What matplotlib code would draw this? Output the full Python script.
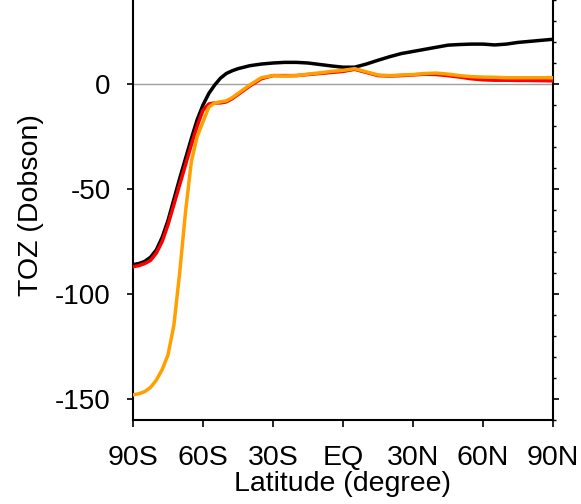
#!/usr/bin/env python3
"""Zonal mean total ozone difference vs latitude."""

import matplotlib as mpl
mpl.use("Agg")
import matplotlib.pyplot as plt
from matplotlib.ticker import MultipleLocator

plt.rcParams["font.family"] = ["Liberation Sans", "DejaVu Sans"]
plt.rcParams["axes.unicode_minus"] = False

lat = [-90, -87.5, -85, -82.5, -80, -77.5, -75, -72.5, -70, -67.5, -65, -62.5,
       -60, -57.5, -55, -52.5, -50, -47.5, -45, -40, -35, -30, -25, -20, -15,
       -10, -5, 0, 5, 10, 15, 20, 25, 30, 35, 40, 45, 50, 55, 60, 65, 70, 75,
       80, 85, 90]

toz_black = [-86, -85.5, -84.5, -82.5, -79, -73, -65, -55, -45, -35.5, -26, -17,
             -10, -4.5, -0.5, 2.8, 5, 6.3, 7.3, 8.7, 9.5, 10, 10.3, 10.3, 10,
             9.3, 8.6, 8, 8, 9.5, 11.3, 13, 14.5, 15.5, 16.5, 17.5, 18.5, 18.8,
             19, 19, 18.6, 19, 19.8, 20.3, 20.8, 21.3]

toz_red = [-87, -86.5, -85.5, -84, -80.5, -75, -67, -57.5, -48, -38.5, -29,
           -20, -12.5, -9.5, -9, -9, -8.5, -7, -5, -1, 2.5, 4, 4, 4, 4.5, 5,
           5.5, 6, 7, 5.5, 4, 3.8, 4, 4.3, 4.7, 4.5, 4, 3.3, 2.5, 2, 1.8, 1.8,
           1.7, 1.7, 1.6, 1.5]

toz_orange = [-148, -147.5, -146.5, -144.5, -141, -136, -129, -115, -90, -61,
              -37, -25, -18, -11, -9, -8.5, -8, -6.5, -4.5, -0.5, 3, 4, 3.8, 4,
              4.7, 5.3, 6, 6.5, 7.3, 5.8, 4.3, 4, 4.3, 4.5, 5, 5.2, 4.7, 4,
              3.5, 3.3, 3.2, 3, 3, 3, 3, 3]

xticks = [-90, -60, -30, 0, 30, 60, 90]
xticklabels = ["90S", "60S", "30S", "EQ", "30N", "60N", "90N"]
yticks = [0, -50, -100, -150]


fig = plt.figure(figsize=(5.81, 5.04), dpi=100)
ax = fig.add_axes([133 / 581, 84 / 504, 420 / 581, 430.5 / 504])

ax.axhline(0, color="#a0a0a0", lw=1.0, zorder=1)
ax.plot(lat, toz_black, color="black", lw=2.5, zorder=2)
ax.plot(lat, toz_red, color="#ff0000", lw=2.5, zorder=3)
ax.plot(lat, toz_orange, color="#ffa000", lw=2.5, zorder=4)

ax.set_xlim(-90, 90)
ax.set_ylim(-160, 45)
ax.set_xticks(xticks)
ax.set_xticklabels(xticklabels)
ax.set_yticks(yticks)
ax.yaxis.set_minor_locator(MultipleLocator(10))

for side in ["left", "right", "bottom", "top"]:
    ax.spines[side].set_linewidth(1.5)

ax.tick_params(axis="x", which="major", direction="out", length=5, width=1.2,
               labelsize=20.5, pad=13, top=False)
ax.tick_params(axis="y", which="major", direction="out", length=4, width=1.2,
               labelsize=20, pad=12, left=True, right=True)
ax.tick_params(axis="y", which="minor", direction="out", length=2, width=1.0,
               left=False, right=True)

ax.set_xlabel("Latitude (degree)", fontsize=20.5, labelpad=0)
ax.set_ylabel("TOZ (Dobson)", fontsize=20.5, labelpad=8)

fig.savefig("out.png", dpi=100)
